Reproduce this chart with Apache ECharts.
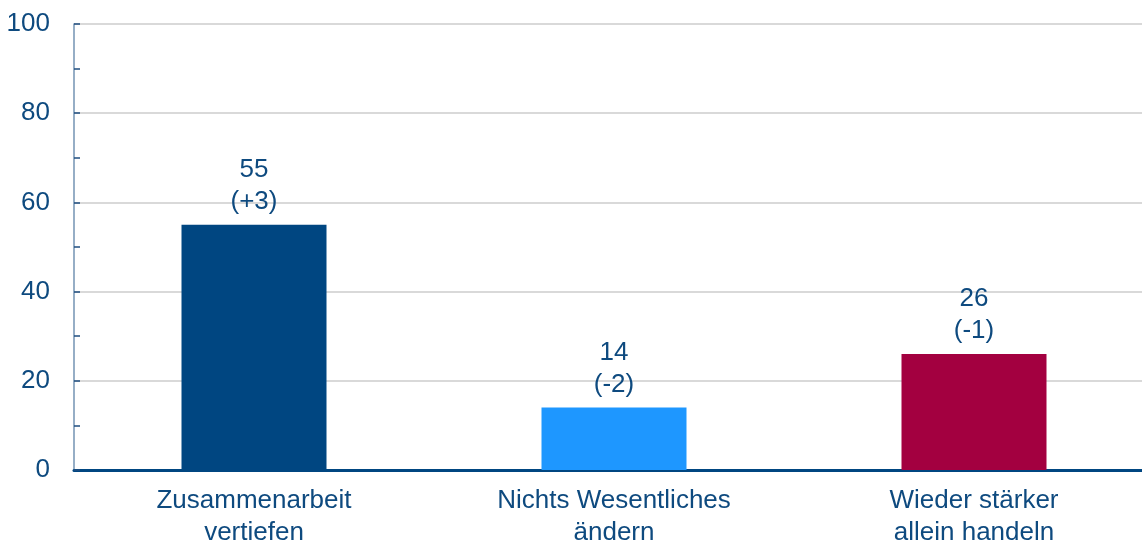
<!DOCTYPE html>
<html>
<head>
<meta charset="utf-8">
<script src="https://cdn.jsdelivr.net/npm/echarts@6/dist/echarts.min.js"></script>
<style>html,body{margin:0;padding:0;background:#fff}#c{width:1142px;height:543px}</style>
</head>
<body>
<div id="c"></div>
<script>
var categories = ['Zusammenarbeit\nvertiefen', 'Nichts Wesentliches\nändern', 'Wieder stärker\nallein handeln'];
var values = [55, 14, 26];
var changes = ['+3', '-2', '-1'];
var barColors = ['#004681', '#1e97ff', '#a30040'];
var yTicks = [0, 20, 40, 60, 80, 100];

var textColor = '#0e4a7f';
var font = 'Liberation Sans, Arial, sans-serif';
var chart = echarts.init(document.getElementById('c'), null, {renderer: 'canvas'});
chart.setOption({
  animation: false,
  grid: {left: 74, top: 24, width: 1080, height: 446, outerBoundsMode: 'none', containLabel: false},
  xAxis: {
    type: 'category',
    data: categories,
    axisLine: {show: true, lineStyle: {color: '#004681', width: 3}},
    axisTick: {show: false},
    axisLabel: {color: textColor, fontSize: 26, fontFamily: font, lineHeight: 32, margin: 15, interval: 0}
  },
  yAxis: {
    type: 'value',
    min: yTicks[0], max: yTicks[yTicks.length - 1], interval: 20,
    axisLine: {show: true, lineStyle: {color: '#7393b3', width: 1.5}},
    axisTick: {show: true, inside: true, length: 6, lineStyle: {color: '#1f4e80', width: 1.5}},
    minorTick: {show: true, splitNumber: 2, length: 6, lineStyle: {color: '#1f4e80', width: 1.5}},
    splitLine: {show: true, lineStyle: {color: '#d9d9d9', width: 2}},
    axisLabel: {color: textColor, fontSize: 26, fontFamily: font, margin: 24,
      formatter: function (v) { return yTicks.indexOf(v) >= 0 ? String(v) : ''; }}
  },
  series: [{
    type: 'bar',
    barWidth: 145,
    data: values.map(function (v, i) { return {value: v, itemStyle: {color: barColors[i]}}; }),
    label: {
      show: true, position: 'top', distance: 7,
      color: textColor, fontSize: 26, fontFamily: font, lineHeight: 32,
      formatter: function (p) { return p.value + '\n(' + changes[p.dataIndex] + ')'; }
    }
  }]
});
</script>
</body>
</html>
